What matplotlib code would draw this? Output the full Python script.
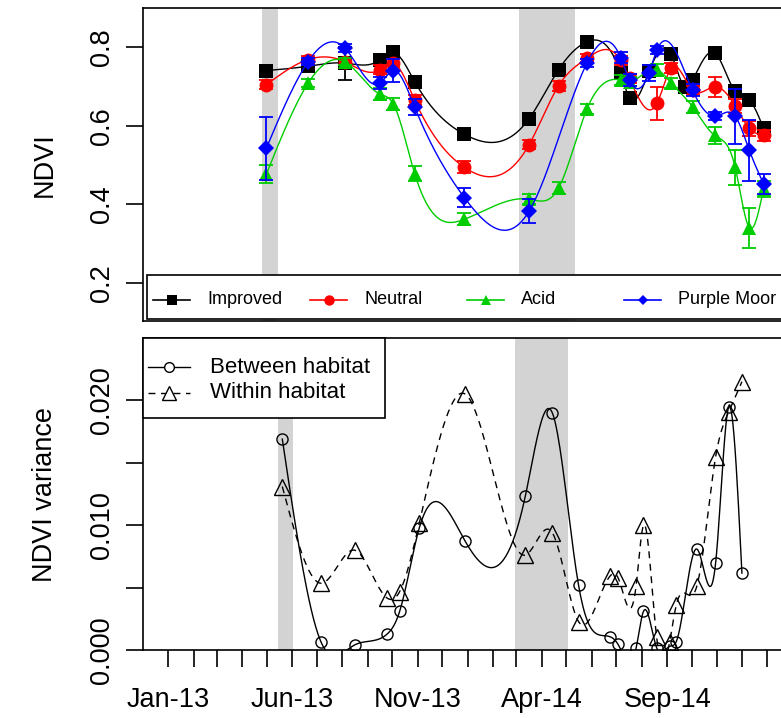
import numpy as np
import pandas as pd
import matplotlib
matplotlib.use('Agg')
import matplotlib.pyplot as plt
import matplotlib.dates as mdates
from matplotlib.patches import Rectangle
from matplotlib.lines import Line2D

plt.rcParams['font.family'] = ['Liberation Sans', 'DejaVu Sans']

dates = pd.to_datetime(['2013-05-20', '2013-07-06', '2013-08-16', '2013-09-25', '2013-10-10',
                        '2013-11-03', '2013-12-29', '2014-03-12', '2014-04-14', '2014-05-16',
                        '2014-06-23', '2014-07-03', '2014-07-25', '2014-08-03', '2014-08-19',
                        '2014-09-04', '2014-09-12', '2014-10-07', '2014-10-30', '2014-11-15',
                        '2014-12-01'])
nan = np.nan

improved = [0.740, 0.751, 0.759, 0.767, 0.786, 0.712, 0.578, 0.618, 0.742, 0.813, 0.733,
            0.671, 0.738, nan, 0.781, 0.697, 0.716, 0.785, 0.687, 0.665, 0.593]
improved_se = [0.010, 0.008, 0.042, 0.010, 0.008, 0.010, 0.008, 0.010, 0.010, 0.008, 0.010,
               0.012, 0.010, nan, 0.008, 0.010, 0.010, 0.008, 0.010, 0.010, 0.012]
neutral = [0.704, 0.768, 0.763, 0.742, 0.759, 0.665, 0.494, 0.552, 0.701, 0.771, 0.766,
           0.720, nan, 0.657, 0.746, nan, 0.690, 0.699, 0.650, 0.593, 0.575]
neutral_se = [0.012, 0.010, 0.010, 0.012, 0.010, 0.012, 0.015, 0.012, 0.012, 0.010, 0.012,
              0.012, nan, 0.042, 0.012, nan, 0.012, 0.025, 0.018, 0.020, 0.015]
acid = [0.477, 0.708, 0.763, 0.680, 0.655, 0.478, 0.362, 0.413, 0.441, 0.642, 0.716,
        0.712, nan, 0.742, 0.708, nan, 0.648, 0.575, 0.494, 0.340, 0.439]
acid_se = [0.022, 0.010, 0.010, 0.015, 0.015, 0.020, 0.015, 0.012, 0.015, 0.012, 0.012,
           0.012, nan, 0.015, 0.012, nan, 0.015, 0.022, 0.045, 0.050, 0.020]
purple = [0.543, 0.763, 0.798, 0.708, 0.740, 0.647, 0.417, 0.383, nan, 0.759, 0.773,
          0.715, 0.734, 0.793, nan, nan, 0.690, 0.624, 0.624, 0.537, 0.452]
purple_se = [0.080, 0.010, 0.010, 0.015, 0.030, 0.020, 0.025, 0.030, nan, 0.010, 0.015,
             0.015, 0.020, 0.010, nan, nan, 0.015, 0.010, 0.070, 0.077, 0.025]

between = [0.0169, 0.00067, 0.0004, 0.00129, 0.0031, 0.0098, 0.0087, 0.0123, 0.0190, 0.00517,
           0.00107, 0.00046, 0.00013, 0.0031, 0.0002, 0.0003, 0.00067, 0.0081, 0.0070,
           0.0195, 0.00616]
within = [0.0131, 0.00535, 0.0080, 0.00415, 0.00468, 0.0102, 0.0205, 0.0076, 0.0094, 0.00227,
          0.0059, 0.0058, 0.0051, 0.0100, 0.00107, 0.00067, 0.0036, 0.0051, 0.0155, 0.0191,
          0.0215]

gray_periods = [('2013-05-15', '2013-06-02'), ('2014-02-28', '2014-05-03')]
month_ticks = pd.date_range('2013-01-01', '2015-01-01', freq='MS')
label_ticks = pd.to_datetime(['2013-01-01', '2013-06-01', '2013-11-01', '2014-04-01', '2014-09-01'])
tick_labels = ['Jan-13', 'Jun-13', 'Nov-13', 'Apr-14', 'Sep-14']


def spline(x, y, n=400):
    # natural cubic spline through the points
    x = np.asarray(x, float)
    y = np.asarray(y, float)
    k = len(x)
    h = np.diff(x)
    A = np.zeros((k, k))
    b = np.zeros(k)
    A[0, 0] = A[-1, -1] = 1
    for i in range(1, k - 1):
        A[i, i - 1] = h[i - 1]
        A[i, i] = 2 * (h[i - 1] + h[i])
        A[i, i + 1] = h[i]
        b[i] = 6 * ((y[i + 1] - y[i]) / h[i] - (y[i] - y[i - 1]) / h[i - 1])
    M = np.linalg.solve(A, b)
    xs = np.linspace(x[0], x[-1], n)
    j = np.clip(np.searchsorted(x, xs) - 1, 0, k - 2)
    t0 = xs - x[j]
    t1 = x[j + 1] - xs
    hj = h[j]
    ys = (M[j] * t1 ** 3 + M[j + 1] * t0 ** 3) / (6 * hj) + \
         (y[j] / hj - M[j] * hj / 6) * t1 + (y[j + 1] / hj - M[j + 1] * hj / 6) * t0
    return xs, ys


FW, FH = 781, 718


def fx(x):
    return x / FW


def fy(y):
    return 1 - y / FH


xnum = mdates.date2num(dates)

fig = plt.figure(figsize=(7.81, 7.18), dpi=100)
W = (792 - 143) / FW
ax1 = fig.add_axes([fx(143), fy(321), W, (321 - 8) / FH])
ax2 = fig.add_axes([fx(143), fy(650), W, (650 - 338) / FH])

for a, b in gray_periods:
    for ax in (ax1, ax2):
        ax.axvspan(pd.Timestamp(a), pd.Timestamp(b), color='#d3d3d3', lw=0, zorder=0)

series = [('Improved', improved, improved_se, 'black', 's', 10),
          ('Neutral', neutral, neutral_se, 'red', 'o', 10),
          ('Acid', acid, acid_se, '#00cd00', '^', 10),
          ('Purple Moor', purple, purple_se, 'blue', 'D', 8)]
for name, vals, se, col, mk, ms in series:
    v = np.array(vals)
    ok = ~np.isnan(v)
    xs, ys = spline(xnum[ok], v[ok])
    ax1.plot(xs, ys, color=col, lw=1)
    ax1.errorbar(dates[ok], v[ok], yerr=np.array(se)[ok], fmt='none', ecolor=col,
                 capsize=5, elinewidth=1.3, capthick=1.3)
    ax1.plot(dates[ok], v[ok], mk, color=col, ms=ms, mew=0)

ax1.set_xlim(pd.Timestamp('2013-01-01'), pd.Timestamp('2013-01-01') + pd.Timedelta(days=731))
ax1.set_ylim(0.1034, 0.899)
ax1.set_yticks([0.2, 0.4, 0.6, 0.8])
ax1.set_yticklabels(['0.2', '0.4', '0.6', '0.8'], rotation=90, va='center')
ax1.set_xticks([])
ax1.set_ylabel('NDVI', fontsize=19.5, labelpad=22)

# legend of the top panel, laid out like R's legend(ncol=4)
fig.add_artist(Rectangle((fx(147), fy(319)), fx(820 - 147), 44 / FH, transform=fig.transFigure,
                         facecolor='white', edgecolor='black', lw=1.2, zorder=5))
for i, (name, vals, se, col, mk, ms) in enumerate(series):
    x0 = 153 + 157 * i
    fig.add_artist(Line2D([fx(x0), fx(x0 + 37)], [fy(300), fy(300)], color=col, lw=1.2,
                          transform=fig.transFigure, zorder=6))
    fig.add_artist(Line2D([fx(x0 + 18.5)], [fy(300)], color=col, marker=mk, ms=ms - 2.5, mew=0,
                          transform=fig.transFigure, zorder=6))
    fig.text(fx(x0 + 54), fy(300), name, fontsize=13, va='center', ha='left', zorder=6)

xb, yb = spline(xnum, between)
ax2.plot(xb, yb, color='black', lw=1)
ax2.plot(dates, between, 'o', mfc='none', mec='black', ms=8, mew=1)
xw, yw = spline(xnum, within)
ax2.plot(xw, yw, color='black', lw=1, ls=(0, (5, 4)))
ax2.plot(dates, within, '^', mfc='none', mec='black', ms=11, mew=1)

# legend of the bottom panel
fig.add_artist(Rectangle((fx(143), fy(418)), fx(385 - 143), 80 / FH, transform=fig.transFigure,
                         facecolor='white', edgecolor='black', lw=1.2, zorder=5))
for yy, name, ls, mk, ms in [(367, 'Between habitat', '-', 'o', 7),
                             (393, 'Within habitat', (0, (5, 4)), '^', 10)]:
    fig.add_artist(Line2D([fx(148), fx(190)], [fy(yy), fy(yy)], color='black', lw=1, ls=ls,
                          transform=fig.transFigure, zorder=6))
    fig.add_artist(Line2D([fx(169)], [fy(yy)], color='black', marker=mk, ms=ms, mfc='white',
                          mew=1, transform=fig.transFigure, zorder=6))
    fig.text(fx(210), fy(yy), name, fontsize=16, va='center', ha='left', zorder=6)

ax2.set_xlim(pd.Timestamp('2013-01-01') - pd.Timedelta(days=30.7),
             pd.Timestamp('2013-01-01') + pd.Timedelta(days=760))
ax2.set_ylim(0, 0.025)
ax2.set_yticks([0, 0.005, 0.01, 0.015, 0.02])
ax2.set_yticklabels(['0.000', '', '0.010', '', '0.020'], rotation=90, va='center')
ax2.set_xticks(month_ticks)
lab = ['' for _ in month_ticks]
for d, t in zip(label_ticks, tick_labels):
    lab[list(month_ticks).index(d)] = t
ax2.set_xticklabels(lab)
ax2.set_ylabel('NDVI variance', fontsize=19.5, labelpad=22)
ax2.tick_params(axis='x', pad=14)

for ax in (ax1, ax2):
    ax.tick_params(direction='out', length=12.5, width=1.2, labelsize=19.5)
    ax.tick_params(axis='y', pad=8)
    for s in ax.spines.values():
        s.set_linewidth(1.2)

fig.savefig('out.png', dpi=100)
